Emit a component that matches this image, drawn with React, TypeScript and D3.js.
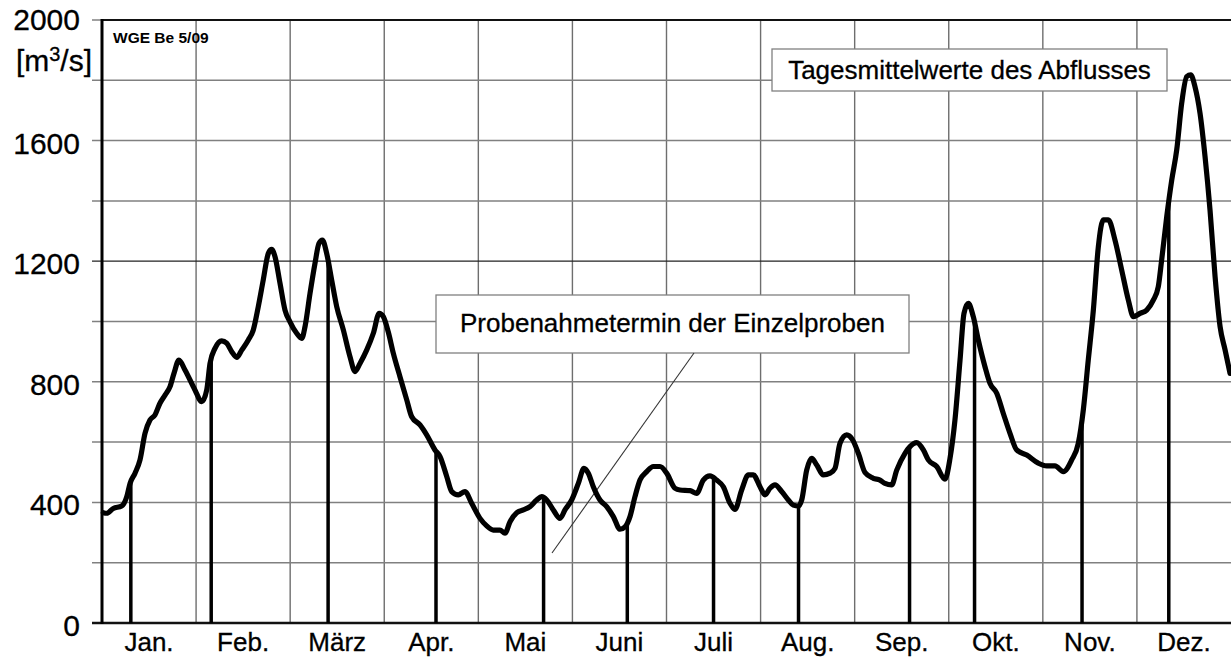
import React, { useRef, useEffect } from "react";
import * as d3 from "d3";

// Month labels along the bottom (every month gets the same width).
const monthLabels = ["Jan.", "Feb.", "März", "Apr.", "Mai", "Juni", "Juli", "Aug.", "Sep.", "Okt.", "Nov.", "Dez."];

// Y axis: labelled ticks and grid steps.
const yTickValues = [0, 400, 800, 1200, 1600, 2000];
const yGridValues = [200, 400, 600, 800, 1000, 1200, 1400, 1600, 1800, 2000];

// Daily mean discharge (m³/s), position given in months (0 = start of Jan, 12 = end of Dec).
const flowT = [
  0.014, 0.05, 0.12, 0.209, 0.263, 0.298, 0.351, 0.404, 0.457, 0.51, 0.563, 0.616, 0.67, 0.723, 0.765, 0.818,
  0.882, 0.988, 1.06, 1.113, 1.148, 1.201, 1.272, 1.325, 1.379, 1.432, 1.485, 1.555, 1.608, 1.661, 1.714, 1.768,
  1.804, 1.839, 1.892, 1.945, 1.998, 2.069, 2.123, 2.158, 2.211, 2.264, 2.306, 2.342, 2.388, 2.441, 2.495, 2.565,
  2.636, 2.689, 2.742, 2.813, 2.884, 2.947, 2.99, 3.043, 3.096, 3.167, 3.239, 3.292, 3.38, 3.451, 3.539, 3.593,
  3.664, 3.717, 3.787, 3.858, 3.929, 4.018, 4.089, 4.159, 4.23, 4.283, 4.337, 4.408, 4.478, 4.549, 4.62, 4.674,
  4.727, 4.797, 4.868, 4.921, 4.992, 5.063, 5.123, 5.169, 5.222, 5.293, 5.364, 5.435, 5.506, 5.559, 5.612, 5.665,
  5.718, 5.79, 5.86, 5.931, 6.002, 6.09, 6.143, 6.25, 6.321, 6.391, 6.462, 6.533, 6.604, 6.675, 6.728, 6.799,
  6.87, 6.923, 6.994, 7.047, 7.1, 7.153, 7.224, 7.295, 7.348, 7.401, 7.437, 7.49, 7.543, 7.597, 7.667, 7.738,
  7.791, 7.844, 7.915, 7.979, 8.039, 8.11, 8.198, 8.269, 8.322, 8.393, 8.447, 8.535, 8.588, 8.659, 8.73, 8.783,
  8.872, 8.96, 9.013, 9.066, 9.12, 9.162, 9.208, 9.261, 9.314, 9.385, 9.438, 9.51, 9.58, 9.651, 9.722, 9.829,
  9.952, 10.041, 10.129, 10.218, 10.307, 10.377, 10.43, 10.483, 10.537, 10.59, 10.643, 10.696, 10.767, 10.838, 10.909, 10.962,
  11.033, 11.104, 11.174, 11.227, 11.263, 11.317, 11.37, 11.423, 11.476, 11.529, 11.572, 11.617, 11.671, 11.724, 11.777, 11.831,
  11.884, 11.937, 11.99,
];
const flowQ = [
  366, 364, 380, 388, 419, 463, 497, 541, 629, 673, 690, 729, 756, 784, 828, 872,
  839, 773, 734, 773, 861, 911, 936, 928, 900, 881, 905, 939, 972, 1049, 1138, 1226,
  1239, 1215, 1127, 1038, 999, 961, 944, 983, 1093, 1193, 1259, 1270, 1226, 1138, 1049, 972,
  883, 834, 861, 905, 961, 1027, 1016, 965, 895, 817, 740, 684, 657, 624, 574, 552,
  486, 436, 425, 436, 397, 347, 322, 308, 308, 298, 336, 366, 375, 386, 408, 419,
  408, 375, 347, 375, 408, 463, 513, 497, 452, 408, 386, 353, 311, 319, 353, 419,
  474, 502, 519, 519, 497, 447, 441, 439, 430, 474, 488, 474, 452, 397, 377, 441,
  491, 491, 452, 425, 447, 458, 436, 408, 391, 388, 408, 507, 546, 524, 491, 497,
  513, 596, 624, 607, 563, 499, 480, 474, 463, 458, 507, 563, 585, 598, 574, 541,
  519, 477, 545, 673, 872, 1027, 1060, 1016, 939, 850, 795, 762, 695, 629, 574, 557,
  530, 521, 521, 502, 541, 596, 706, 872, 1038, 1248, 1337, 1337, 1270, 1171, 1071, 1016,
  1027, 1038, 1071, 1115, 1204, 1348, 1469, 1569, 1724, 1812, 1818, 1779, 1690, 1547, 1370, 1148,
  983, 906, 828,
];

// Sampling dates of the single samples.
const sampleDates = [
  "2009-01-10", "2009-02-05", "2009-03-13", "2009-04-17", "2009-05-22", "2009-06-18",
  "2009-07-16", "2009-08-13", "2009-09-18", "2009-10-09", "2009-11-13", "2009-12-11",
];

// Turn a date into a month position (months are drawn with equal width).
function monthPos(s: string) {
  const [yy, mm, dd] = s.split("-").map(Number);
  const days = new Date(yy, mm, 0).getDate();
  return mm - 1 + (dd - 0.5) / days;
}

// Linear interpolation of the discharge at a month position.
function flowAt(t: number) {
  const i = Math.max(1, Math.min(flowT.length - 1, d3.bisectLeft(flowT, t)));
  const t0 = flowT[i - 1], t1 = flowT[i];
  const k = (t - t0) / (t1 - t0);
  return flowQ[i - 1] + k * (flowQ[i] - flowQ[i - 1]);
}

const FONT = "'Liberation Sans', Arial, Helvetica, sans-serif";

function DischargeChart() {
  const svgRef = useRef<SVGSVGElement>(null);

  useEffect(() => {
    // Set up the SVG container.
    const w = 1231;
    const h = 659;
    const svg = d3.select(svgRef.current).attr("width", w).attr("height", h);
    svg.selectAll("*").remove();

    // Set up the scaling.
    const x = d3.scaleLinear().domain([0, 12]).range([102, 1231]);
    const y = d3.scaleLinear().domain([0, 2000]).range([623, 20]);

    const grid = svg.append("g");

    // Vertical grid lines at the month borders.
    grid.selectAll(".vgrid")
      .data(d3.range(1, 12))
      .join("line")
      .attr("x1", (d) => x(d))
      .attr("x2", (d) => x(d))
      .attr("y1", y(2000))
      .attr("y2", y(0))
      .attr("stroke", "#6e6e6e")
      .attr("stroke-width", 1.4);

    // Horizontal grid lines plus the little ticks left of the axis.
    grid.selectAll(".hgrid")
      .data(yGridValues)
      .join("line")
      .attr("x1", x(0) - 10)
      .attr("x2", w)
      .attr("y1", (d) => y(d))
      .attr("y2", (d) => y(d))
      .attr("stroke", (d) => (d === 1200 ? "#222" : "#808080"))
      .attr("stroke-width", (d) => (d === 1200 ? 1.2 : 1.5));

    // Frame: top border, bottom axis, left axis.
    svg.append("line")
      .attr("x1", x(0)).attr("x2", w)
      .attr("y1", y(2000)).attr("y2", y(2000))
      .attr("stroke", "#111").attr("stroke-width", 2);
    svg.append("line")
      .attr("x1", x(0) - 10).attr("x2", w)
      .attr("y1", y(0)).attr("y2", y(0))
      .attr("stroke", "#111").attr("stroke-width", 2.5);
    svg.append("line")
      .attr("x1", x(0)).attr("x2", x(0))
      .attr("y1", y(2000) - 1).attr("y2", y(0) + 1)
      .attr("stroke", "#000").attr("stroke-width", 3);

    // Shared text look (a touch heavier, like the print).
    const styleText = (sel: any, size: number) =>
      sel.attr("font-family", FONT)
        .attr("font-size", size)
        .attr("fill", "#000")
        .attr("stroke", "#000")
        .attr("stroke-width", 0.3);

    // Y axis labels.
    styleText(
      svg.selectAll(".ylab")
        .data(yTickValues)
        .join("text")
        .attr("x", 80)
        .attr("y", (d) => y(d) + (d === 2000 ? 10 : 13))
        .attr("text-anchor", "end"),
      30
    ).text((d) => d);

    // Unit label.
    const unit = styleText(
      svg.append("text").attr("x", 92).attr("y", 71).attr("text-anchor", "end"),
      30
    );
    unit.append("tspan").text("[m");
    unit.append("tspan").attr("font-size", 20).attr("dy", -10).text("3");
    unit.append("tspan").attr("dy", 10).text("/s]");

    // Month labels.
    styleText(
      svg.selectAll(".xlab")
        .data(monthLabels)
        .join("text")
        .attr("x", (d, i) => x(i + 0.5))
        .attr("y", 651)
        .attr("text-anchor", "middle"),
      26
    ).text((d) => d);

    // Small document tag.
    svg.append("text")
      .attr("x", 113)
      .attr("y", 43)
      .attr("font-family", FONT)
      .attr("font-size", 15.5)
      .attr("font-weight", "bold")
      .attr("fill", "#000")
      .text("WGE Be 5/09");

    // Annotation boxes.
    const boxes = [
      { x: 436, y: 295, w: 473, h: 58, base: 332, label: "Probenahmetermin der Einzelproben" },
      { x: 772, y: 49, w: 395, h: 42, base: 79, label: "Tagesmittelwerte des Abflusses" },
    ];
    const bx = svg.selectAll(".box").data(boxes).join("g");
    bx.append("rect")
      .attr("x", (d) => d.x)
      .attr("y", (d) => d.y)
      .attr("width", (d) => d.w)
      .attr("height", (d) => d.h)
      .attr("fill", "#fff")
      .attr("stroke", "#808080")
      .attr("stroke-width", 1.3);
    styleText(
      bx.append("text")
        .attr("x", (d) => d.x + d.w / 2)
        .attr("y", (d) => d.base)
        .attr("text-anchor", "middle"),
      26
    ).text((d) => d.label);

    // Leader line from the sampling box.
    svg.append("line")
      .attr("x1", 694).attr("y1", 353)
      .attr("x2", 552).attr("y2", 553)
      .attr("stroke", "#333")
      .attr("stroke-width", 1.1);

    // Sampling date bars, from zero up to the discharge on that day.
    svg.selectAll(".sample")
      .data(sampleDates.map(monthPos))
      .join("line")
      .attr("x1", (d) => x(d))
      .attr("x2", (d) => x(d))
      .attr("y1", y(0))
      .attr("y2", (d) => y(flowAt(d)))
      .attr("stroke", "#000")
      .attr("stroke-width", 3.5);

    // Discharge line.
    const line = d3.line<number>()
      .x((d, i) => x(flowT[i]))
      .y((d) => y(d))
      .curve(d3.curveMonotoneX);
    svg.append("path")
      .datum(flowQ)
      .attr("d", line)
      .attr("fill", "none")
      .attr("stroke", "#000")
      .attr("stroke-width", 5.2)
      .attr("stroke-linejoin", "round")
      .attr("stroke-linecap", "round");
  }, []);

  return (
    <svg
      ref={svgRef}
      style={{ position: "absolute", left: 0, top: 0, background: "#fff" }}
    ></svg>
  );
}

export default function App() {
  return <DischargeChart />;
}
